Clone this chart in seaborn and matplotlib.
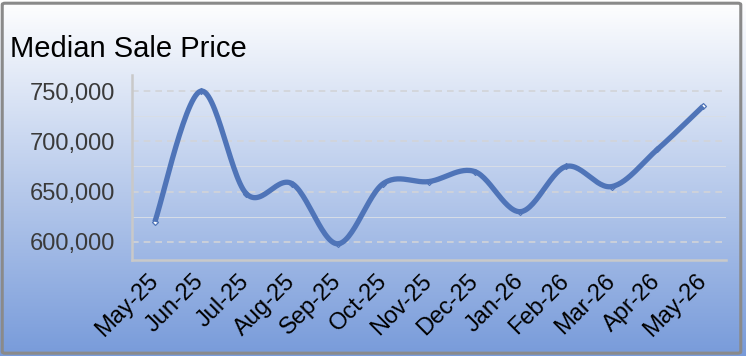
import numpy as np
import pandas as pd
import matplotlib
matplotlib.use("Agg")
import matplotlib.pyplot as plt
import seaborn as sns
from matplotlib.patches import FancyBboxPatch
from matplotlib.ticker import FuncFormatter, MultipleLocator

months = ["May-25", "Jun-25", "Jul-25", "Aug-25", "Sep-25", "Oct-25", "Nov-25",
          "Dec-25", "Jan-26", "Feb-26", "Mar-26", "Apr-26", "May-26"]
median_price = [620000, 750000, 648000, 658000, 598000, 658000, 660000,
                670000, 630000, 675000, 655000, 692000, 735000]

LINE = "#4f74b8"


def excel_smooth(x, y, n=30):
    # Excel-style smoothed line: cubic Bezier segments, Catmull-Rom control points
    x = np.asarray(x, float)
    y = np.asarray(y, float)
    px = np.concatenate([[x[0]], x, [x[-1]]])
    py = np.concatenate([[y[0]], y, [y[-1]]])
    xs, ys = [], []
    t = np.linspace(0, 1, n)
    for i in range(1, len(px) - 2):
        p0, p1, p2, p3 = [np.array([px[j], py[j]]) for j in (i - 1, i, i + 1, i + 2)]
        c1 = p1 + (p2 - p0) / 6
        c2 = p2 - (p3 - p1) / 6
        pts = ((1 - t)[:, None] ** 3 * p1 + 3 * ((1 - t) ** 2 * t)[:, None] * c1
               + 3 * ((1 - t) * t ** 2)[:, None] * c2 + (t ** 3)[:, None] * p2)
        xs.extend(pts[:, 0])
        ys.extend(pts[:, 1])
    return np.array(xs), np.array(ys)


df = pd.DataFrame({"pos": np.arange(len(months)), "price": median_price})
sx, sy = excel_smooth(df["pos"], df["price"])
smooth = pd.DataFrame({"pos": sx, "price": sy})

sns.set_theme(style="white")
plt.rcParams["font.family"] = ["Liberation Sans", "DejaVu Sans"]

fig = plt.figure(figsize=(7.46, 3.56), dpi=100)

# gradient background
bg = fig.add_axes([0, 0, 1, 1], zorder=-10)
grad = np.linspace(0, 1, 256)[:, None]
top = np.array([1.0, 1.0, 1.0])
bot = np.array([0x78, 0x9b, 0xda]) / 255
img = top[None, None, :] * (1 - grad[:, :, None]) + bot[None, None, :] * grad[:, :, None]
bg.imshow(img, aspect="auto", extent=[0, 1, 0, 1], origin="upper")
bg.add_patch(FancyBboxPatch((0.003, 0.008), 0.990, 0.983,
                            boxstyle="round,pad=0,rounding_size=0.004",
                            fill=False, edgecolor="#8a8a8a", linewidth=2.2,
                            transform=bg.transAxes))
bg.set_xlim(0, 1)
bg.set_ylim(0, 1)
bg.axis("off")

ax = fig.add_axes([0.177, 0.27, 0.796, 0.519])
ax.patch.set_alpha(0)

# markers sit under the line; only the ends show
sns.scatterplot(data=df, x="pos", y="price", ax=ax, marker="D", s=9,
                color="white", edgecolor=LINE, linewidth=0.9, zorder=2)
sns.lineplot(data=smooth, x="pos", y="price", ax=ax, sort=False, estimator=None,
             color=LINE, linewidth=3.8, zorder=3, solid_capstyle="butt")

ax.set_xlim(-0.5, len(months) - 0.5)
ax.set_ylim(582000, 766000)
ax.yaxis.set_major_locator(MultipleLocator(50000))
ax.yaxis.set_minor_locator(MultipleLocator(25000))
ax.yaxis.set_major_formatter(FuncFormatter(lambda v, p: f"{v:,.0f}"))
ax.grid(axis="y", which="major", color="#d2d4d8", linestyle=(0, (4, 3)), linewidth=1.2)
ax.grid(axis="y", which="minor", color="#d8dde6", linestyle="-", linewidth=0.7)
ax.grid(axis="x", visible=False)

ax.set_xticks(df["pos"])
ax.set_xticklabels(months, rotation=45, ha="right", va="center",
                   rotation_mode="anchor", fontsize=17, color="black")
ax.tick_params(axis="x", length=0, pad=13)
ax.tick_params(axis="y", length=0, pad=12, labelsize=17, labelcolor="#3a3a3a")
ax.set_xlabel("")
ax.set_ylabel("")

for s in ["top", "right"]:
    ax.spines[s].set_visible(False)
for s in ["left", "bottom"]:
    ax.spines[s].set_color("#c9c9c9")
    ax.spines[s].set_linewidth(1.8)

fig.text(10 / 746, 1 - 57 / 356, "Median Sale Price", fontsize=21, color="black",
         ha="left", va="baseline")

fig.savefig("out.png", dpi=100)
